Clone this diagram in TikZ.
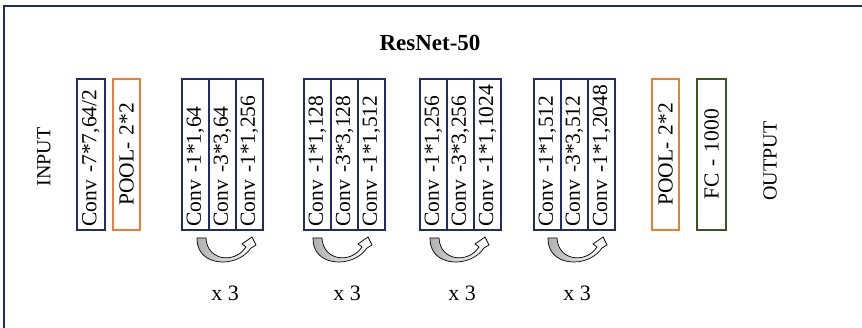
\documentclass[tikz,border=0pt]{standalone}
\usepackage{fontspec}
\setmainfont{Liberation Serif}
\definecolor{navy}{RGB}{33,44,112}
\definecolor{orng}{RGB}{237,125,49}
\definecolor{dgreen}{RGB}{56,87,35}
\definecolor{arrowgray}{RGB}{175,175,175}
\tikzset{
  cellbox/.style={draw=navy, line width=2.6pt, rotate=90, minimum height=27pt,
    text width=144pt, inner xsep=3.5pt, inner ysep=0pt, align=left,
    font=\fontsize{21.5}{24}\selectfont},
  poolbox/.style={cellbox, draw=orng, align=center},
  fcbox/.style={cellbox, draw=dgreen, align=center},
  sidelabel/.style={rotate=90, font=\fontsize{20}{24}\selectfont},
  replabel/.style={font=\fontsize{22}{24}\selectfont},
  rep/.pic={\draw[left color=arrowgray, right color=white, line width=0.7pt] (-26,0) -- (-17,0)
     .. controls (-16,23) and (12,26) .. (23,9) -- (19,6) -- (29,-1) -- (33,7) -- (28,10)
     .. controls (14,31) and (-27,29) .. cycle;}
}
\begin{document}
\begin{tikzpicture}[x=1pt,y=-1pt]
\useasboundingbox (0,0) rectangle (862,328);
\draw[navy, line width=2.5pt] (4,328) coordinate (fb) -- (4,6) coordinate (fc) -- (862,6) coordinate (fr);
\node[font=\fontsize{23}{26}\selectfont\bfseries] (title) at (430,43) {ResNet-50};
\node[sidelabel] (input) at (44,157) {INPUT};
\node[sidelabel] (output) at (770,161) {OUTPUT};
\node[cellbox, minimum height=28pt] (c7) at (91,154.5) {Conv -7*7,64/2};
\node[poolbox] (p1) at (126.5,154.5) {POOL- 2*2};
% group 1
\node[cellbox] (a1) at (195.5,154.5) {Conv -1*1,64};
\node[cellbox] (a2) at (222.5,154.5) {Conv -3*3,64};
\node[cellbox] (a3) at (249.5,154.5) {Conv -1*1,256};
% group 2
\node[cellbox] (b1) at (317.5,154.5) {Conv -1*1,128};
\node[cellbox] (b2) at (344.5,154.5) {Conv -3*3,128};
\node[cellbox] (b3) at (371.5,154.5) {Conv -1*1,512};
% group 3
\node[cellbox] (d1) at (433.5,154.5) {Conv -1*1,256};
\node[cellbox] (d2) at (460.5,154.5) {Conv -3*3,256};
\node[cellbox] (d3) at (487.5,154.5) {Conv -1*1,1024};
% group 4
\node[cellbox] (e1) at (547.5,154.5) {Conv -1*1,512};
\node[cellbox] (e2) at (574.5,154.5) {Conv -3*3,512};
\node[cellbox] (e3) at (601.5,154.5) {Conv -1*1,2048};
\node[poolbox] (p2) at (665.5,154.5) {POOL- 2*2};
\node[fcbox, minimum height=29pt] (fc) at (711.5,154.5) {FC - 1000};
% repeat arrows
\pic at (223,238) {rep};
\pic at (339,238) {rep};
\pic at (456,238) {rep};
\pic at (574,238) {rep};
\node[replabel] (r1) at (225,293) {x 3};
\node[replabel] (r2) at (347,293) {x 3};
\node[replabel] (r3) at (462,293) {x 3};
\node[replabel] (r4) at (577,293) {x 3};
\end{tikzpicture}
\end{document}
